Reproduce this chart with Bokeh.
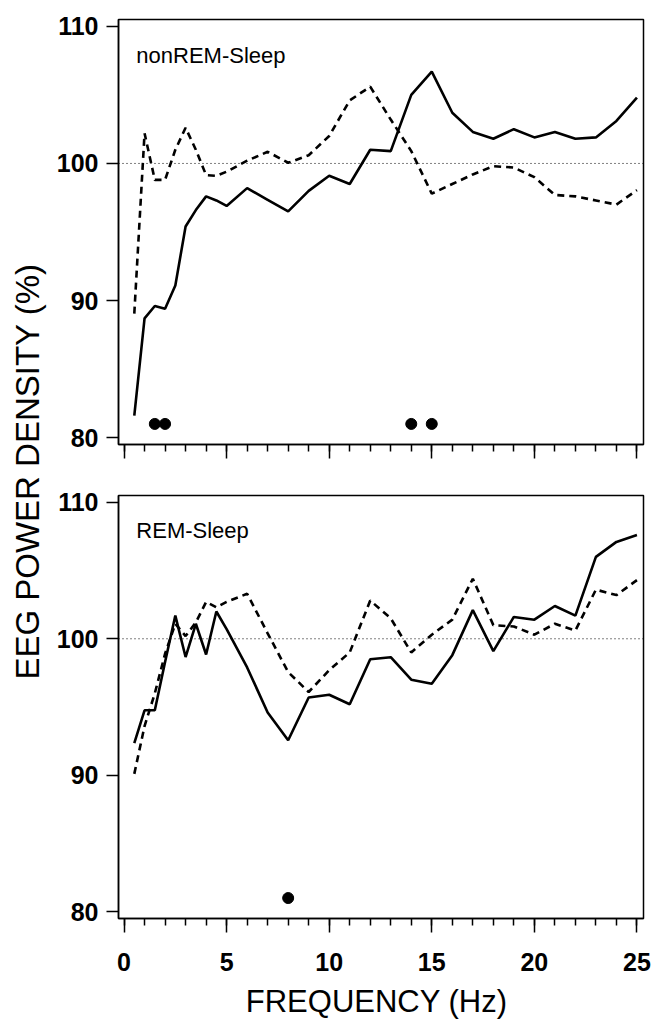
from bokeh.plotting import figure
from bokeh.layouts import column, row
from bokeh.models import Span, Label, FixedTicker, Range1d
from bokeh.embed import file_html
from bokeh.resources import INLINE

# ---------------- data ----------------
freq = [0.5, 1, 1.5, 2, 2.5, 3, 3.5, 4, 4.5, 5, 6, 7, 8, 9, 10, 11, 12, 13,
        14, 15, 16, 17, 18, 19, 20, 21, 22, 23, 24, 25]

nrem_solid = [81.6, 88.7, 89.6, 89.4, 91.1, 95.4, 96.6, 97.6, 97.3, 96.9,
              98.2, 97.35, 96.5, 98.0, 99.1, 98.5, 101.0, 100.9, 105.0, 106.7,
              103.7, 102.3, 101.8, 102.5, 101.9, 102.3, 101.8, 101.9, 103.1, 104.8]
nrem_dashed = [89.05, 102.2, 98.8, 98.8, 101.0, 102.6, 101.0, 99.15, 99.1, 99.4,
               100.2, 100.85, 100.05, 100.6, 102.0, 104.6, 105.6, 103.2, 100.9, 97.8,
               98.5, 99.2, 99.8, 99.7, 99.0, 97.7, 97.6, 97.3, 97.0, 98.05]

rem_solid = [92.36, 94.76, 94.76, 98.3, 101.7, 98.66, 101.1, 98.85, 102.0, 100.7,
             97.9, 94.6, 92.56, 95.7, 95.9, 95.2, 98.5, 98.65, 97.0, 96.7,
             98.8, 102.1, 99.1, 101.6, 101.4, 102.4, 101.7, 106.0, 107.1, 107.6]
rem_dashed = [90.1, 93.6, 96.0, 98.9, 101.1, 100.2, 101.2, 102.7, 102.3, 102.7,
              103.3, 100.4, 97.56, 96.1, 97.7, 99.0, 102.8, 101.5, 99.0, 100.3,
              101.4, 104.4, 101.0, 100.9, 100.3, 101.1, 100.6, 103.6, 103.2, 104.3]

nrem_sig_freq = [1.5, 2, 14, 15]
rem_sig_freq = [8]
sig_marker_level = 81

x_major_ticks = [0, 5, 10, 15, 20, 25]
x_minor_ticks = [0, 1, 2, 3, 4, 5, 6, 7, 8, 9, 10, 11, 12, 13, 14, 15, 16, 17,
                 18, 19, 20, 21, 22, 23, 24, 25]
y_ticks = [80, 90, 100, 110]
reference_level = 100

FONT = "Liberation Sans"


def make_panel(height, border_top, border_bottom, solid, dashed, sig, title, show_xlabels):
    p = figure(width=603, height=height, output_backend="svg", toolbar_location=None,
               x_range=Range1d(-0.27, 25.32), y_range=Range1d(79.5, 110.5),
               min_border_left=68, min_border_right=10,
               min_border_top=border_top, min_border_bottom=border_bottom)
    p.grid.visible = False
    p.outline_line_color = "black"
    p.outline_line_width = 1.5
    p.background_fill_color = "white"
    p.border_fill_color = "white"

    xa = p.xaxis[0]
    xa.ticker = FixedTicker(ticks=x_major_ticks, minor_ticks=x_minor_ticks)
    xa.major_tick_out = 14
    xa.major_tick_in = 0
    xa.minor_tick_out = 7
    xa.minor_tick_in = 0
    xa.axis_line_width = 1.5
    xa.major_tick_line_width = 1.5
    xa.minor_tick_line_width = 1.5
    if show_xlabels:
        xa.major_label_text_font = FONT
        xa.major_label_text_font_style = "bold"
        xa.major_label_text_font_size = "25px"
        xa.major_label_text_color = "black"
        xa.major_label_standoff = 20
        xa.axis_label = "FREQUENCY  (Hz)"
        xa.axis_label_text_font = FONT
        xa.axis_label_text_font_style = "normal"
        xa.axis_label_text_font_size = "31px"
        xa.axis_label_text_color = "black"
        xa.axis_label_standoff = 10
    else:
        xa.major_label_overrides = {t: "" for t in x_major_ticks}
        xa.major_label_text_font_size = "8px"
        xa.major_label_standoff = 0

    ya = p.yaxis[0]
    ya.ticker = FixedTicker(ticks=y_ticks, minor_ticks=[])
    ya.major_tick_out = 12
    ya.major_tick_in = 0
    ya.axis_line_width = 1.5
    ya.major_tick_line_width = 1.5
    ya.major_label_text_font = FONT
    ya.major_label_text_font_style = "bold"
    ya.major_label_text_font_size = "25px"
    ya.major_label_text_color = "black"
    ya.major_label_standoff = 8

    p.add_layout(Span(location=reference_level, dimension="width", line_color="black",
                      line_width=1, line_dash="1 3"))
    p.line(freq, dashed, line_color="black", line_width=2.6, line_dash="7 5")
    p.line(freq, solid, line_color="black", line_width=2.6)
    p.scatter(sig, [sig_marker_level] * len(sig), size=11, color="black")

    p.add_layout(Label(x=0.6, y=107.9, text=title, text_font=FONT,
                       text_font_size="22px", text_color="black",
                       text_baseline="alphabetic", text_align="left"))
    return p


top = make_panel(474, 19, 30, nrem_solid, nrem_dashed, nrem_sig_freq, "nonREM-Sleep", False)
bottom = make_panel(552, 21, 108, rem_solid, rem_dashed, rem_sig_freq, "REM-Sleep", True)

side = figure(width=50, height=1026, output_backend="svg", toolbar_location=None,
              x_range=Range1d(0, 50), y_range=Range1d(0, 1026),
              x_axis_location=None, y_axis_location=None,
              min_border_left=0, min_border_right=0, min_border_top=0, min_border_bottom=0)
side.grid.visible = False
side.outline_line_color = None
side.add_layout(Label(x=27, y=1026 - 471, text="EEG POWER DENSITY (%)", angle=1.5707963,
                      text_font=FONT, text_font_size="33px", text_color="black",
                      text_align="center", text_baseline="middle"))

layout = row(side, column(top, bottom, spacing=0), spacing=0)

open("out.html", "w").write(file_html(layout, INLINE))
